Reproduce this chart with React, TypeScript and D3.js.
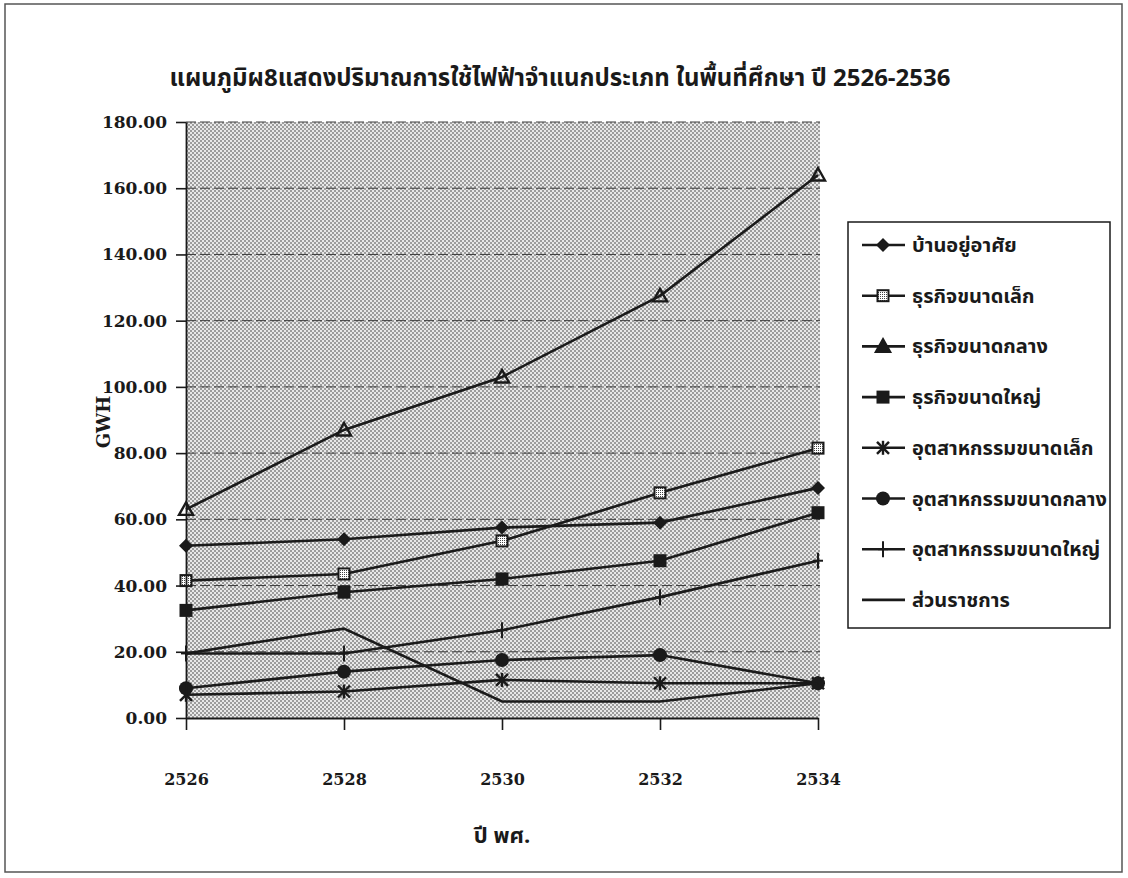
import { useRef, useEffect } from "react";
import * as d3 from "d3";

const WIDTH = 1128;
const HEIGHT = 878;
const PLOT = { left: 186, right: 818, top: 122, bottom: 718 };

const years = ["2526", "2528", "2530", "2532", "2534"];
const yTicks = [0, 20, 40, 60, 80, 100, 120, 140, 160, 180];

const residential = [52, 54, 57.5, 59, 69.5];
const smallBusiness = [41.5, 43.5, 53.5, 68, 81.5];
const mediumBusiness = [63, 87, 103, 127.5, 164];
const largeBusiness = [32.5, 38, 42, 47.5, 62];
const smallIndustry = [7, 8, 11.5, 10.5, 10.5];
const mediumIndustry = [9, 14, 17.5, 19, 10.5];
const largeIndustry = [19.5, 19.5, 26.5, 36.5, 47.5];
const government = [19.5, 27, 5, 5, 10.5];

const seriesNames = [
  "บ้านอยู่อาศัย",
  "ธุรกิจขนาดเล็ก",
  "ธุรกิจขนาดกลาง",
  "ธุรกิจขนาดใหญ่",
  "อุตสาหกรรมขนาดเล็ก",
  "อุตสาหกรรมขนาดกลาง",
  "อุตสาหกรรมขนาดใหญ่",
  "ส่วนราชการ",
];
const seriesValues = [
  residential,
  smallBusiness,
  mediumBusiness,
  largeBusiness,
  smallIndustry,
  mediumIndustry,
  largeIndustry,
  government,
];
const markerKinds = ["diamond", "hatch", "triangle", "square", "star", "circle", "plus", "none"];

const TITLE = "แผนภูมิผ8แสดงปริมาณการใช้ไฟฟ้าจำแนกประเภท ในพื้นที่ศึกษา ปี 2526-2536";
const THAI_FONT = "'Noto Sans Thai', 'Noto Serif Thai', Loma, Garuda, Norasi, 'Tlwg Typo', sans-serif";
const NUM_FONT = "'DejaVu Serif', 'Liberation Serif', serif";
const INK = "#1a1a1a";

const Marker = ({ kind, x, y, legend }: { kind: string; x: number; y: number; legend?: boolean }) => {
  const s = 7;
  switch (kind) {
    case "diamond":
      return <path d={`M${x},${y - s}L${x + s},${y}L${x},${y + s}L${x - s},${y}Z`} fill={INK} />;
    case "hatch":
      return (
        <rect x={x - 5.5} y={y - 5.5} width={11} height={11} fill="url(#hatch)" stroke={INK} strokeWidth={2} />
      );
    case "triangle":
      return (
        <path
          d={`M${x},${y - 7}L${x + 7},${y + 5.5}L${x - 7},${y + 5.5}Z`}
          fill={legend ? INK : "none"}
          stroke={INK}
          strokeWidth={2.4}
        />
      );
    case "square":
      return <rect x={x - 6.5} y={y - 6.5} width={13} height={13} fill={INK} />;
    case "star":
      return (
        <g stroke={INK} strokeWidth={2.4}>
          <line x1={x - 6} y1={y - 6} x2={x + 6} y2={y + 6} />
          <line x1={x - 6} y1={y + 6} x2={x + 6} y2={y - 6} />
          <line x1={x} y1={y - 7} x2={x} y2={y + 7} />
        </g>
      );
    case "circle":
      return <circle cx={x} cy={y} r={7} fill={INK} />;
    case "plus":
      return (
        <g stroke={INK} strokeWidth={2}>
          <line x1={x} y1={y - 8} x2={x} y2={y + 8} />
          <line x1={x - 5} y1={y} x2={x + 5} y2={y} />
        </g>
      );
    default:
      return null;
  }
};

const App = () => {
  const xAxisRef = useRef<SVGGElement | null>(null);
  const yAxisRef = useRef<SVGGElement | null>(null);

  const xScale = d3.scalePoint<string>().domain(years).range([PLOT.left, PLOT.right]);
  const yScale = d3.scaleLinear().domain([0, 180]).range([PLOT.bottom, PLOT.top]);

  // axes with d3
  useEffect(() => {
    const xg = d3.select(xAxisRef.current);
    xg.selectAll("*").remove();
    xg.call(d3.axisBottom(xScale).tickSize(12).tickPadding(44).tickSizeOuter(0));
    xg.select(".domain").attr("stroke", INK).attr("stroke-width", 1.8);
    xg.selectAll(".tick line").attr("stroke", INK).attr("stroke-width", 1.6);
    xg.selectAll(".tick text")
      .attr("fill", INK)
      .attr("font-family", NUM_FONT)
      .attr("font-weight", "bold")
      .attr("font-size", 16);

    const yg = d3.select(yAxisRef.current);
    yg.selectAll("*").remove();
    yg.call(
      d3
        .axisLeft(yScale)
        .tickValues(yTicks)
        .tickFormat(d3.format(".2f"))
        .tickSize(10)
        .tickPadding(9)
        .tickSizeOuter(0)
    );
    yg.select(".domain").attr("stroke", INK).attr("stroke-width", 1.8);
    yg.selectAll(".tick line").attr("stroke", INK).attr("stroke-width", 1.6);
    yg.selectAll(".tick text")
      .attr("fill", INK)
      .attr("font-family", NUM_FONT)
      .attr("font-weight", "bold")
      .attr("font-size", 17);
  }, []);

  const lineBuilder = d3
    .line<number>()
    .x((_, i) => xScale(years[i]) ?? 0)
    .y((d) => yScale(d));

  const legendX = 848;
  const legendY = 222;
  const legendStep = 50.7;

  return (
    <svg
      width={WIDTH}
      height={HEIGHT}
      style={{ position: "absolute", left: 0, top: 0, background: "#fff" }}
    >
      <defs>
        <pattern id="stipple" width={4} height={4} patternUnits="userSpaceOnUse">
          <rect width={4} height={4} fill="#e8e8e8" />
          <rect x={0} y={0} width={2} height={2} fill="#9c9c9c" />
          <rect x={2} y={2} width={2} height={2} fill="#9c9c9c" />
        </pattern>
        <pattern id="hatch" width={2} height={2} patternUnits="userSpaceOnUse">
          <rect width={2} height={2} fill="#fff" />
          <rect width={1} height={1} fill="#444" />
        </pattern>
      </defs>

      <rect x={5} y={4} width={1117} height={868} fill="none" stroke="#555" strokeWidth={1.5} />

      <text
        x={560}
        y={86}
        textAnchor="middle"
        fontFamily={THAI_FONT}
        fontWeight="bold"
        fontSize={24}
        fill={INK}
      >
        {TITLE}
      </text>

      {/* plot area */}
      <rect
        x={PLOT.left}
        y={PLOT.top}
        width={PLOT.right - PLOT.left + 2}
        height={PLOT.bottom - PLOT.top}
        fill="url(#stipple)"
      />
      {yTicks.slice(1).map((t) => (
        <line
          key={t}
          x1={PLOT.left}
          x2={PLOT.right + 2}
          y1={yScale(t)}
          y2={yScale(t)}
          stroke="#3a3a3a"
          strokeWidth={1}
          strokeDasharray="10 4"
        />
      ))}

      {seriesValues.map((vals, si) => (
        <g key={seriesNames[si]}>
          <path d={lineBuilder(vals) ?? ""} fill="none" stroke={INK} strokeWidth={2.6} />
          {vals.map((v, i) => (
            <Marker key={i} kind={markerKinds[si]} x={xScale(years[i]) ?? 0} y={yScale(v)} />
          ))}
        </g>
      ))}

      <g ref={xAxisRef} transform={`translate(0,${PLOT.bottom})`} />
      <g ref={yAxisRef} transform={`translate(${PLOT.left},0)`} />

      <text
        x={110}
        y={422}
        transform="rotate(-90,110,422)"
        textAnchor="middle"
        fontFamily={NUM_FONT}
        fontWeight="bold"
        fontSize={18}
        fill={INK}
      >
        GWH
      </text>
      <text
        x={502}
        y={843}
        textAnchor="middle"
        fontFamily={THAI_FONT}
        fontWeight="bold"
        fontSize={22}
        fill={INK}
      >
        ปี พศ.
      </text>

      {/* legend */}
      <rect x={legendX} y={legendY} width={262} height={406} fill="#fff" stroke={INK} strokeWidth={1.5} />
      {seriesNames.map((name, i) => {
        const y = legendY + 23 + i * legendStep;
        return (
          <g key={name}>
            <line x1={862} x2={905} y1={y} y2={y} stroke={INK} strokeWidth={2.6} />
            <Marker kind={markerKinds[i]} x={883} y={y} legend />
            <text
              x={912}
              y={y + 7}
              fontFamily={THAI_FONT}
              fontWeight="bold"
              fontSize={20}
              fill={INK}
            >
              {name}
            </text>
          </g>
        );
      })}
    </svg>
  );
};

export default App;
